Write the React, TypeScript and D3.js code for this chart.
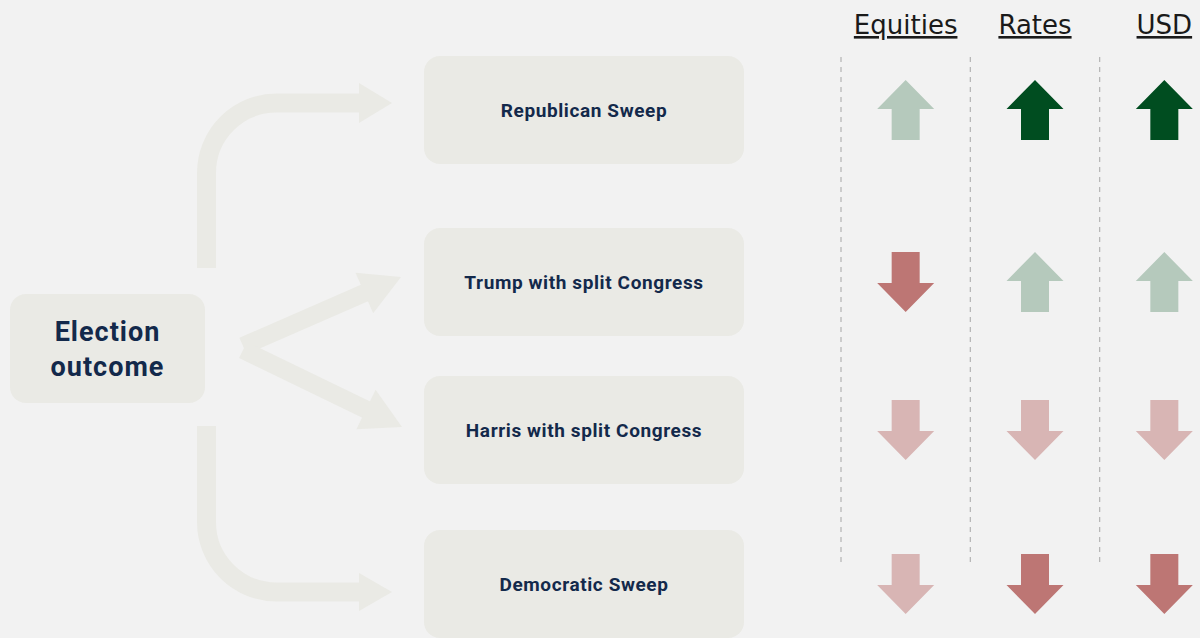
import React, { useEffect } from 'react';
import * as d3 from 'd3';

// scenario boxes (top to bottom)
const scenarios = [
  'Republican Sweep',
  'Trump with split Congress',
  'Harris with split Congress',
  'Democratic Sweep',
];
const assets = ['Equities', 'Rates', 'USD'];

// +1 up / -1 down, per asset, per scenario
const directions = [
  [1, 1, 1],
  [-1, 1, 1],
  [-1, -1, -1],
  [-1, -1, -1],
];
// 1 = strong, 0 = mild
const strengths = [
  [0, 1, 1],
  [1, 0, 0],
  [0, 0, 0],
  [0, 1, 1],
];

const W = 1200;
const H = 638;
const BG = '#f2f2f2';
const BOX = '#eaeae5';
const NAVY = '#13294b';

const colorFor = (dir: number, s: number) =>
  dir > 0 ? (s ? '#004d20' : '#b5c9bc') : (s ? '#bd7674' : '#d8b5b4');

function arrowPoints(dir: number) {
  const h = 30, headH = 29, headW = 28.5, shaft = 14;
  const pts = [
    [0, -h], [headW, -h + headH], [shaft, -h + headH], [shaft, h],
    [-shaft, h], [-shaft, -h + headH], [-headW, -h + headH],
  ];
  return pts.map(([x, y]) => `${x},${y * dir}`).join(' ');
}

// straight thick arrow from a to tip
function diagArrow(ax: number, ay: number, tx: number, ty: number) {
  const dx = tx - ax, dy = ty - ay;
  const len = Math.hypot(dx, dy);
  const ux = dx / len, uy = dy / len;
  const headL = 40, headHalf = 22;
  const bx = tx - ux * headL, by = ty - uy * headL;
  const nx = -uy, ny = ux;
  const head = [
    [tx, ty],
    [bx + nx * headHalf, by + ny * headHalf],
    [bx - nx * headHalf, by - ny * headHalf],
  ].map(p => p.join(',')).join(' ');
  return { line: `M${ax},${ay}L${bx + ux * 2},${by + uy * 2}`, head };
}

export default function App() {
  useEffect(() => {
    document.body.style.margin = '0';
    document.body.style.background = BG;
  }, []);

  const x = d3.scaleBand().domain(assets).range([841, 1229]);
  const y = d3.scaleOrdinal<string, number>().domain(scenarios).range([110, 282, 430, 584]);

  const boxX0 = 424, boxX1 = 744, boxH = 108;

  const top = d3.path();
  top.moveTo(206.5, 268);
  top.lineTo(206.5, 173);
  top.arcTo(206.5, 103, 276.5, 103, 70);
  top.lineTo(361, 103);

  const bot = d3.path();
  bot.moveTo(206.5, 426);
  bot.lineTo(206.5, 522);
  bot.arcTo(206.5, 592, 276.5, 592, 70);
  bot.lineTo(361, 592);

  const up = diagArrow(243, 346, 401, 277);
  const down = diagArrow(243, 350, 402, 427);

  return (
    <svg width={W} height={H} style={{ display: 'block', position: 'absolute', left: 0, top: 0 }}>
      <rect width={W} height={H} fill={BG} />

      {/* flow arrows */}
      <g fill="none" stroke={BOX} strokeWidth={19}>
        <path d={top.toString()} />
        <path d={bot.toString()} />
        <path d={up.line} strokeWidth={18} />
        <path d={down.line} strokeWidth={18} />
      </g>
      <g fill={BOX}>
        <polygon points="359,83 392,103 359,123" />
        <polygon points="359,573 392,592 359,611" />
        <polygon points={up.head} />
        <polygon points={down.head} />
      </g>

      {/* Election outcome */}
      <rect x={10} y={294} width={195} height={109} rx={16} fill={BOX} />
      <text x={107.5} y={341} textAnchor="middle" fontFamily="Roboto" fontWeight={700}
        fontSize={27} letterSpacing={1} fill={NAVY}>Election</text>
      <text x={107.5} y={376} textAnchor="middle" fontFamily="Roboto" fontWeight={700}
        fontSize={27} letterSpacing={1} fill={NAVY}>outcome</text>

      {/* scenario boxes */}
      {scenarios.map(s => (
        <g key={s}>
          <rect x={boxX0} y={y(s) - boxH / 2} width={boxX1 - boxX0} height={boxH} rx={16} fill={BOX} />
          <text x={(boxX0 + boxX1) / 2} y={y(s) + 7} textAnchor="middle" fontFamily="Roboto"
            fontWeight={700} fontSize={19} letterSpacing={0.6} fill={NAVY}>{s}</text>
        </g>
      ))}

      {/* column headers */}
      {assets.map(a => {
        const cx = x(a)! + x.bandwidth() / 2;
        return (
          <text key={a} x={cx} y={34} textAnchor="middle" fontFamily="DejaVu Sans"
            fontSize={26} fill="#1a1a1a" textDecoration="underline">{a}</text>
        );
      })}

      {/* dividers */}
      {assets.map(a => (
        <line key={a} x1={x(a)} x2={x(a)} y1={57} y2={567} stroke="#b3b3b3"
          strokeWidth={1.2} strokeDasharray="5,5" />
      ))}

      {/* market arrows */}
      {scenarios.map((s, i) => assets.map((a, j) => (
        <polygon key={s + a}
          transform={`translate(${x(a)! + x.bandwidth() / 2},${y(s)})`}
          points={arrowPoints(directions[i][j])}
          fill={colorFor(directions[i][j], strengths[i][j])} />
      )))}
    </svg>
  );
}
